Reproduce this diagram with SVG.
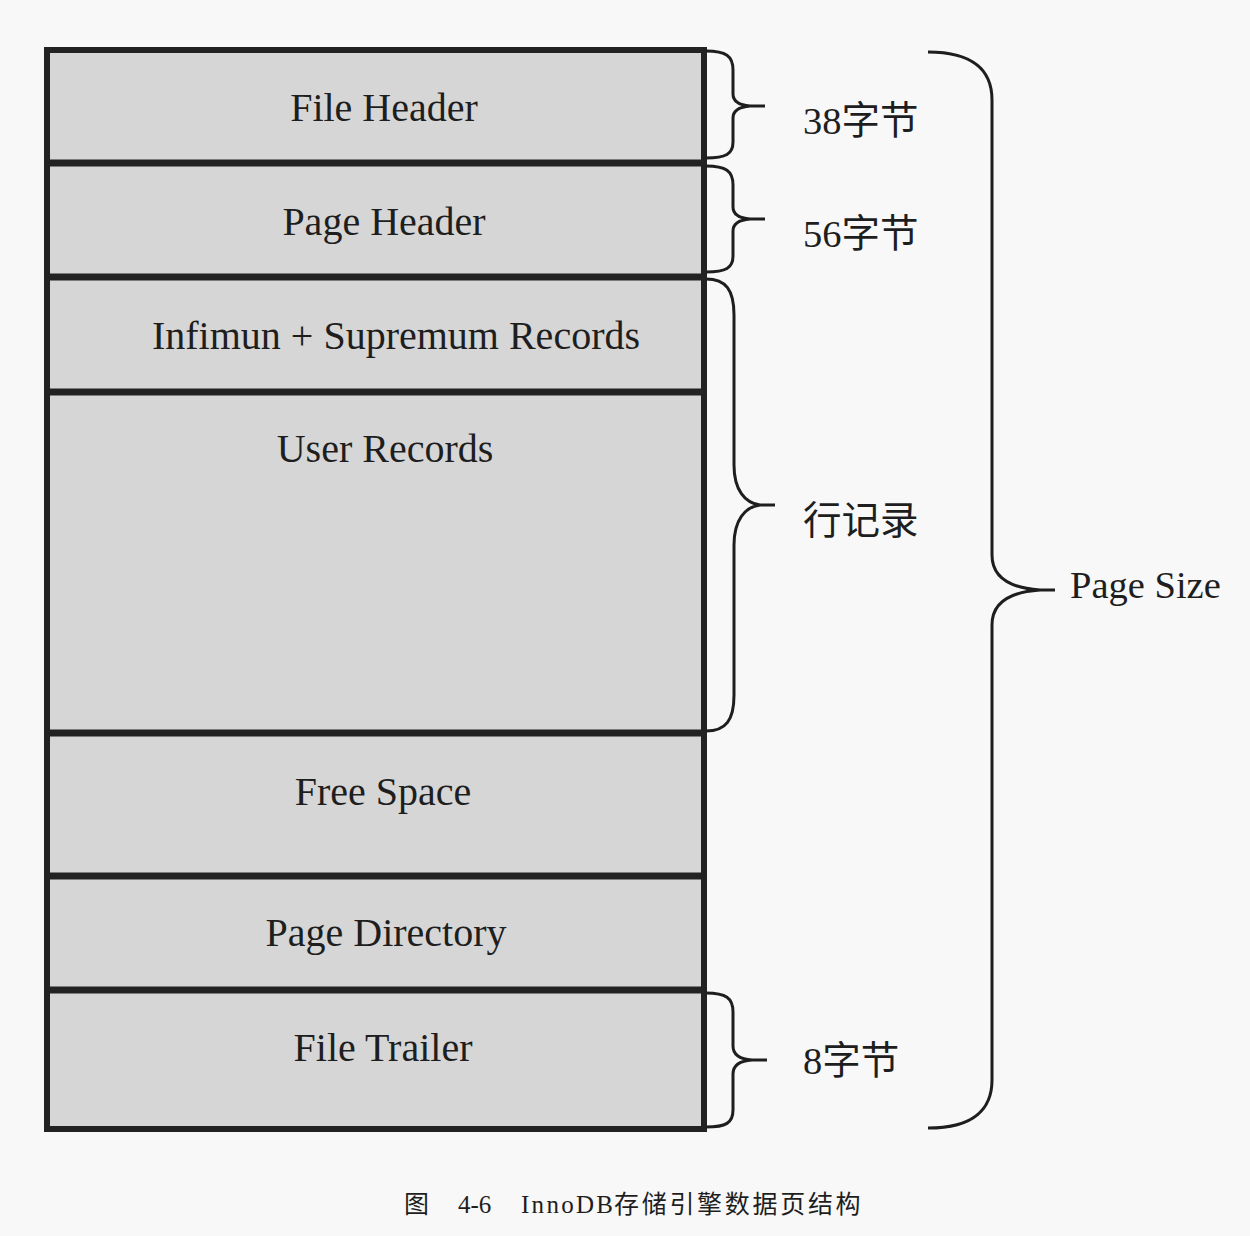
<svg xmlns="http://www.w3.org/2000/svg" width="1250" height="1236" viewBox="0 0 1250 1236">
<style>
.lbl{font-family:"Liberation Serif","Noto Sans CJK SC",serif;font-size:40px;fill:#1e1e1e;text-anchor:middle}
.side{font-family:"Liberation Serif","Noto Sans CJK SC",serif;font-size:38.5px;fill:#1e1e1e}
.cap{font-family:"Liberation Serif","Noto Sans CJK SC",serif;font-size:25px;fill:#1e1e1e}
.div{stroke:#222;stroke-width:7}
.brace{fill:none;stroke:#1e1e1e;stroke-width:3}
</style>
<rect width="1250" height="1236" fill="#f8f8f8"/>
<g id="page">
<rect x="47" y="50" width="657" height="1079" fill="#d6d6d6" stroke="#222" stroke-width="6"/>
</g>
<g id="connectors">
<line class="div" x1="47" y1="163" x2="704" y2="163"/>
<line class="div" x1="47" y1="277" x2="704" y2="277"/>
<line class="div" x1="47" y1="392" x2="704" y2="392"/>
<line class="div" x1="47" y1="733" x2="704" y2="733"/>
<line class="div" x1="47" y1="876" x2="704" y2="876"/>
<line class="div" x1="47" y1="990" x2="704" y2="990"/>
<path class="brace" d="M706,51 C726,51 733,56 733,70 L733,94 C733,101 738,105 750,106 L765,106 M750,106 C738,107 733,111 733,118 L733,142 C733,154 726,158 706,158"/>
<path class="brace" d="M706,166 C726,166 733,171 733,185 L733,207 C733,214 738,218 750,219 L765,219 M750,219 C738,220 733,224 733,231 L733,256 C733,268 726,272 706,272"/>
<path class="brace" d="M706,279 C726,279 734,290 734,315 L734,465 C734,490 745,503 760,505 L775,505 M760,505 C745,507 734,520 734,545 L734,695 C734,720 726,731 706,731"/>
<path class="brace" d="M706,993 C726,993 733,998 733,1012 L733,1046 C733,1054 738,1059 752,1060 L767,1060 M752,1060 C738,1061 733,1066 733,1074 L733,1110 C733,1123 726,1127 706,1127"/>
<path class="brace" d="M928,52 C975,52 992,72 992,100 L992,555 C992,578 1010,588 1040,590 L1055,590 M1040,590 C1010,592 992,602 992,625 L992,1080 C992,1108 975,1128 928,1128"/>
</g>
<g id="file-header"><text class="lbl" x="384" y="121">File Header</text></g>
<g id="page-header"><text class="lbl" x="384" y="235">Page Header</text></g>
<g id="infimum-supremum"><text class="lbl" x="396" y="349">Infimun + Supremum Records</text></g>
<g id="user-records"><text class="lbl" x="385" y="462">User Records</text></g>
<g id="free-space"><text class="lbl" x="383" y="805">Free Space</text></g>
<g id="page-directory"><text class="lbl" x="386" y="946">Page Directory</text></g>
<g id="file-trailer"><text class="lbl" x="383" y="1061">File Trailer</text></g>
<g id="labels">
<text class="side" x="803" y="134">38字节</text>
<text class="side" x="803" y="247">56字节</text>
<text class="side" x="803" y="534">行记录</text>
<text class="side" x="1070" y="598" font-size="40">Page Size</text>
<text class="side" x="803" y="1074">8字节</text>
</g>
<g id="caption">
<text class="cap" x="404" y="1213">图</text>
<text class="cap" x="458" y="1213">4-6</text>
<text class="cap" x="521" y="1213" textLength="92">InnoDB</text>
<text class="cap" x="614" y="1213" letter-spacing="2.7">存储引擎数据页结构</text>
</g>
</svg>
